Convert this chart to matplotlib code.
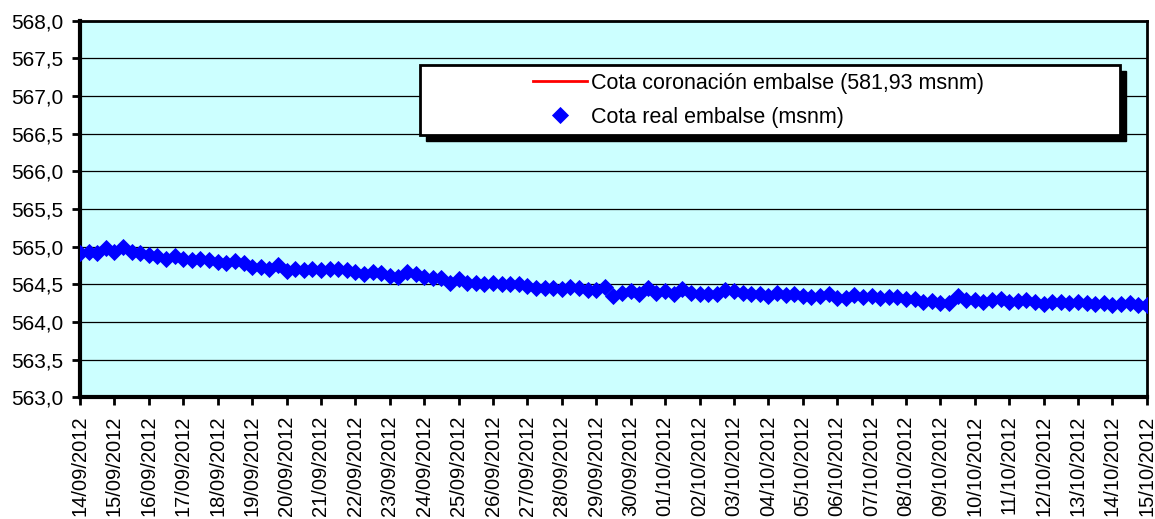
import pandas                 as pd
import matplotlib
matplotlib.use("Agg")
import matplotlib.pyplot      as plt
import matplotlib.dates       as mdates
from   matplotlib.patches     import Rectangle
from   matplotlib.ticker      import FuncFormatter, MultipleLocator

# Cota real embalse (msnm), one reading every 6 hours from 14/09/2012 to 15/10/2012
cotaReal = [
    564.920, 564.935, 564.920, 564.980, 564.930, 564.990, 564.930, 564.920,
    564.885, 564.875, 564.835, 564.875, 564.835, 564.825, 564.835, 564.825,
    564.800, 564.780, 564.810, 564.780, 564.735, 564.730, 564.700, 564.760,
    564.680, 564.710, 564.690, 564.710, 564.690, 564.700, 564.710, 564.690,
    564.665, 564.635, 564.665, 564.645, 564.610, 564.600, 564.670, 564.635,
    564.600, 564.580, 564.580, 564.520, 564.570, 564.520, 564.515, 564.500,
    564.520, 564.510, 564.500, 564.510, 564.480, 564.445, 564.445, 564.455,
    564.435, 564.465, 564.455, 564.420, 564.420, 564.470, 564.340, 564.390,
    564.405, 564.370, 564.450, 564.390, 564.410, 564.375, 564.435, 564.390,
    564.375, 564.370, 564.375, 564.425, 564.405, 564.390, 564.370, 564.370,
    564.345, 564.380, 564.360, 564.375, 564.345, 564.335, 564.345, 564.370,
    564.325, 564.325, 564.360, 564.335, 564.345, 564.325, 564.335, 564.335,
    564.300, 564.310, 564.260, 564.280, 564.250, 564.250, 564.345, 564.290,
    564.290, 564.270, 564.295, 564.300, 564.270, 564.280, 564.290, 564.260,
    564.235, 564.270, 564.270, 564.250, 564.270, 564.250, 564.235, 564.250,
    564.220, 564.235, 564.250, 564.220, 564.220,
]
cotaCoronacion = 581.93

fechas     = pd.date_range("2012-09-14", periods=len(cotaReal), freq="6h")
etiquetaCoronacion = "Cota coronación embalse (581,93 msnm)"
etiquetaReal       = "Cota real embalse (msnm)"

plt.rcParams["font.family"] = ["Liberation Sans", "DejaVu Sans"]

figure = plt.figure(figsize=(11.55, 5.19), dpi=100)
axes   = figure.add_axes([0.0693, 0.2345, 0.9237, 0.7255])
axes.set_facecolor("#CCFFFF")

axes.plot(fechas, [cotaCoronacion]*len(fechas), color="red", linewidth=2, label=etiquetaCoronacion)
axes.plot(fechas, cotaReal, linestyle="none", marker="D", markersize=7.8,
          markerfacecolor="#0000FF", markeredgecolor="#0000FF", markeredgewidth=0.6,
          label=etiquetaReal, zorder=3)

axes.set_ylim(563.0, 568.0)
axes.set_xlim(fechas[0], fechas[-1])
axes.yaxis.set_major_locator(MultipleLocator(0.5))
axes.yaxis.set_major_formatter(FuncFormatter(lambda v, p: f"{v:.1f}".replace(".", ",")))
axes.xaxis.set_major_locator(mdates.DayLocator())
axes.xaxis.set_major_formatter(mdates.DateFormatter("%d/%m/%Y"))

axes.grid(axis="y", color="black", linewidth=0.9)
axes.set_axisbelow(True)
axes.tick_params(axis="both", direction="out", length=6, width=2, colors="black")
axes.tick_params(axis="y", labelsize=15, pad=6)
axes.tick_params(axis="x", labelsize=14.5, pad=7)
plt.setp(axes.get_xticklabels(), rotation=90)

for spine in axes.spines.values():
    spine.set_linewidth(2)
    spine.set_color("black")
axes.spines["left"].set_linewidth(3)
axes.spines["bottom"].set_linewidth(3)

# Legend box with its black shadow
x0, y0, w, h = 0.3187, 0.6965, 0.6565, 0.1855
dx, dy = 6/1067, 6/376.6
axes.add_patch(Rectangle((x0+dx, y0-dy), w, h, transform=axes.transAxes, facecolor="black", edgecolor="black", zorder=5))
axes.add_patch(Rectangle((x0, y0), w, h, transform=axes.transAxes, facecolor="white", edgecolor="black", linewidth=2, zorder=6))

legend = axes.legend(loc="center", bbox_to_anchor=(0.636, y0 + h/2), frameon=False, fontsize=15.5,
                     handlelength=2.5, handletextpad=0.23, labelspacing=0.6, borderpad=0)
legend.set_zorder(7)

figure.savefig("out.png", dpi=100)
